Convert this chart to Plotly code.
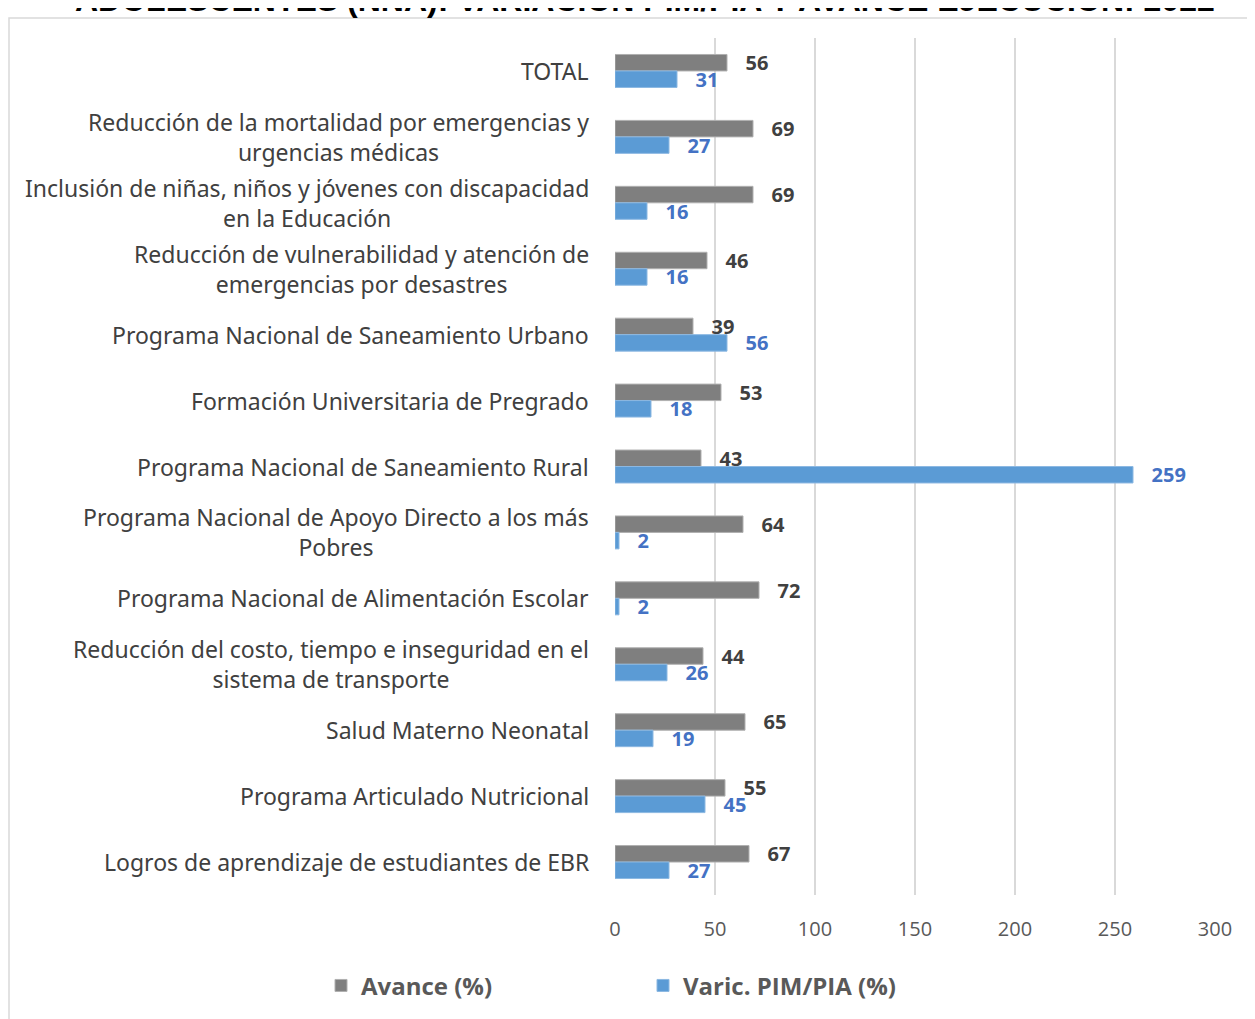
import plotly.graph_objects as go

categorias = [
    "TOTAL",
    "Reducción de la mortalidad por emergencias y<br>urgencias médicas",
    "Inclusión de niñas, niños y jóvenes con discapacidad<br>en la Educación",
    "Reducción de vulnerabilidad y atención de<br>emergencias por desastres",
    "Programa Nacional de Saneamiento Urbano",
    "Formación Universitaria de Pregrado",
    "Programa Nacional de Saneamiento Rural",
    "Programa Nacional de Apoyo Directo a los más<br>Pobres",
    "Programa Nacional de Alimentación Escolar",
    "Reducción del costo, tiempo e inseguridad en el<br>sistema de transporte",
    "Salud Materno Neonatal",
    "Programa Articulado Nutricional",
    "Logros de aprendizaje de estudiantes de EBR",
]
avance = [56, 69, 69, 46, 39, 53, 43, 64, 72, 44, 65, 55, 67]
varic = [31, 27, 16, 16, 56, 18, 259, 2, 2, 26, 19, 45, 27]

titulo = "ADOLESCENTES (NNA): VARIACIÓN PIM/PIA Y AVANCE EJECUCIÓN: 2022"

fig = go.Figure()

fig.add_trace(go.Bar(
    y=categorias, x=avance, orientation="h", name="Avance (%)",
    marker=dict(color="#7f7f7f", line=dict(color="#b0b0b0", width=1)),
    text=avance, texttemplate="   %{x}", textposition="outside",
    constraintext="none",
    textfont=dict(family="Open Sans", size=20, color="#404040", weight="bold"),
    cliponaxis=False,
))
fig.add_trace(go.Bar(
    y=categorias, x=varic, orientation="h", name="Varic. PIM/PIA (%)",
    marker=dict(color="#5b9bd5", line=dict(color="#8cb8e2", width=1)),
    text=varic, texttemplate="   %{x}", textposition="outside",
    constraintext="none",
    textfont=dict(family="Open Sans", size=20, color="#4472c4", weight="bold"),
    cliponaxis=False,
))

# category labels as annotations so wrapped lines are centred
for c in categorias:
    fig.add_annotation(
        x=0, xref="paper", y=c, yref="y", text=c, showarrow=False,
        xanchor="right", align="center", xshift=-24,
        font=dict(family="Noto Sans", size=23, color="#404040"),
    )

# title, clipped at the top like in the source image
fig.add_annotation(
    x=0.05, xref="paper", y=1.021, yref="paper", text="<b>" + titulo + "</b>",
    showarrow=False, xanchor="center", yanchor="bottom",
    font=dict(family="Liberation Sans", size=32, color="#000000"),
)

# chart border
fig.add_shape(
    type="rect", xref="paper", yref="paper",
    x0=-1.01, x1=1.2, y0=-0.2, y1=1.0233,
    line=dict(color="#d9d9d9", width=1.5), layer="below",
)

fig.update_layout(
    width=1255, height=1019,
    margin=dict(l=607, r=48, t=30, b=132),
    barmode="group", bargap=0.5, bargroupgap=0,
    plot_bgcolor="white", paper_bgcolor="white",
    xaxis=dict(
        range=[0, 300], dtick=50, showgrid=True, gridcolor="#d9d9d9", gridwidth=2,
        zeroline=False, showline=False, ticks="", ticklabelstandoff=20,
        tickfont=dict(family="Open Sans", size=20, color="#595959"),
    ),
    yaxis=dict(autorange="reversed", showticklabels=False, showgrid=False,
               zeroline=False, showline=False),
    legend=dict(
        orientation="h", x=-0.49, xanchor="left", y=-0.106, yanchor="middle",
        font=dict(family="Open Sans", size=24, color="#595959", weight="bold"),
        itemwidth=30, entrywidth=277,
    ),
    showlegend=True,
)

fig.write_html("out.html")
